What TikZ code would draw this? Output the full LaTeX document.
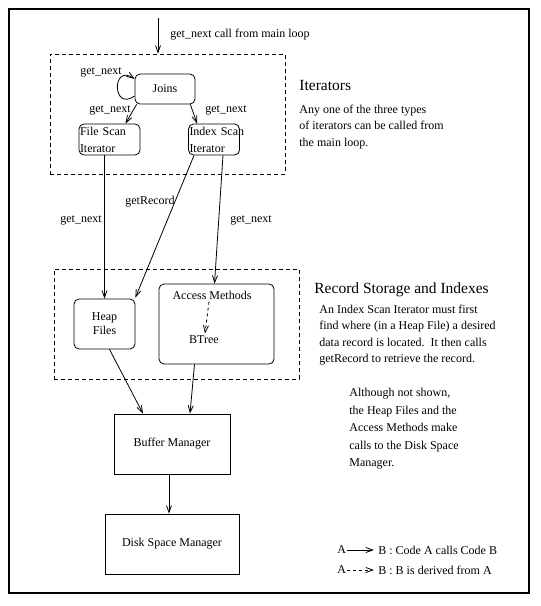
\documentclass[tikz,border=0pt]{standalone}
\usepackage{fontspec}
\setmainfont{Liberation Serif}
\usetikzlibrary{arrows.meta}

\tikzset{
  lbl/.style={font=\fontsize{12}{14}\selectfont, inner sep=0pt},
  head/.style={font=\fontsize{15.5}{18}\selectfont, inner sep=0pt, anchor=west},
  para/.style={font=\fontsize{12}{16.5}\selectfont, inner sep=0pt, anchor=west, align=left},
  rbox/.style={draw, rounded corners=5pt, inner sep=0pt},
  sbox/.style={draw, inner sep=0pt},
  group/.style={draw, dash pattern=on 4pt off 3pt, inner sep=0pt},
  call/.style={-{Straight Barb[length=7pt,width=5pt]}},
  derive/.style={call, dash pattern=on 3pt off 3pt},
}

\begin{document}
\begin{tikzpicture}[x=1pt, y=1pt, line width=0.8pt]
		\useasboundingbox (0, 0) rectangle (541, -606);
		\draw[line width=1.1pt] (9, -9) rectangle (529, -593);
		%%%%%%%%% groups
		\node[group, minimum width=235pt, minimum height=120pt] (iterbox) at (167.5, -114) {};
		\node[group, minimum width=245pt, minimum height=110pt] (recbox) at (176.5, -324) {};
		%%%%%%%%% iterators
		\node[rbox, lbl, minimum width=60pt, minimum height=30pt] (joins) at (165, -89) {Joins};
		\node[rbox, lbl, font=\fontsize{12}{17}\selectfont, text width=59pt, inner xsep=1pt, align=left, minimum height=31pt] (filescan) at (109.5, -139.5) {File Scan\\Iterator};
		\node[rbox, lbl, font=\fontsize{12}{17}\selectfont, text width=49pt, inner xsep=1pt, align=left, minimum height=31pt] (indexscan) at (214, -139.5) {\mbox{Index Scan}\\Iterator};
		%%%%%%%%% record storage
		\node[rbox, lbl, align=center, minimum width=61pt, minimum height=50pt] (heap) at (104.5, -324) {Heap\\Files};
		\node[rbox, minimum width=115pt, minimum height=80pt] (access) at (216.5, -324) {};
		\node[lbl] (amlabel) at (212, -295) {Access Methods};
		\node[lbl] (btree) at (204, -340) {BTree};
		%%%%%%%%% managers
		\node[sbox, lbl, minimum width=116pt, minimum height=60pt] (buffer) at (172, -444) {Buffer Manager};
		\node[sbox, lbl, minimum width=134pt, minimum height=60pt] (disk) at (172, -544) {Disk Space Manager};
		%%%%%%%%% connectors
		\coordinate (mainloop) at (158, -18);
		\draw[call] (mainloop) -- (mainloop |- iterbox.north);
		\draw[call] ([yshift=-7pt]joins.west) to[out=215, in=145, looseness=4.2] ([yshift=10pt]joins.west);
		\draw[call] ([xshift=2pt]joins.south west) -- ([xshift=16pt]filescan.north);
		\draw[call] ([xshift=-5pt]joins.south east) -- ([xshift=-17pt]indexscan.north);
		\draw[call] (heap.north |- filescan.south) -- (heap.north);
		\draw[call] ([xshift=-20pt]indexscan.south) -- ([yshift=1pt]heap.north east);
		\draw[call] ([xshift=9pt]indexscan.south) -- ([xshift=-2pt]access.north);
		\draw[derive] ([xshift=-3pt,yshift=-2pt]amlabel.south) -- ([xshift=1pt,yshift=2pt]btree.north);
		\draw[call] ([xshift=5pt]heap.south) -- ([xshift=-29pt]buffer.north);
		\draw[call] ([xshift=-22pt]access.south) -- ([xshift=18pt]buffer.north);
		\draw[call] ([xshift=-3pt]buffer.south) -- ([xshift=-3pt]disk.north);
		%%%%%%%%% connector labels
		\node[lbl, anchor=west] (mainlbl) at (170, -35) {get\_next call from main loop};
		\node[lbl] (looplbl) at (101, -72) {get\_next};
		\node[lbl] (filelbl) at (110, -110) {get\_next};
		\node[lbl] (indexlbl) at (226, -110) {get\_next};
		\node[lbl] (heaplbl) at (81, -220) {get\_next};
		\node[lbl] (recordlbl) at (150, -202) {getRecord};
		\node[lbl] (accesslbl) at (251, -220) {get\_next};
		%%%%%%%%% notes
		\node[head] (iterhead) at (299, -85) {Iterators};
		\node[para] (iternote) at (299, -127) {Any one of the three types\\of iterators can be called from\\the main loop.};
		\node[head] (rechead) at (314, -290) {Record Storage and Indexes};
		\node[para] (recnote) at (319, -335) {An Index Scan Iterator must first\\find where (in a Heap File) a desired\\data record is located.\ \ It then calls\\getRecord to retrieve the record.};
		\node[para, font=\fontsize{12}{17.5}\selectfont] (disknote) at (349, -429) {Although not shown,\\the Heap Files and the\\Access Methods make\\calls to the Disk Space\\Manager.};
		%%%%%%%%% legend
		\node[lbl, anchor=west] (legAa) at (337, -550) {A};
		\node[lbl, anchor=west] (legBa) at (378, -550) {B : Code A calls Code B};
		\node[lbl, anchor=west] (legAb) at (337, -570) {A};
		\node[lbl, anchor=west] (legBb) at (378, -570) {B : B is derived from A};
		\draw[call] ([xshift=1pt]legAa.east) -- ([xshift=-4pt]legBa.west);
		\draw[derive] ([xshift=1pt]legAb.east) -- ([xshift=-4pt]legBb.west);
	\end{tikzpicture}
\end{document}
